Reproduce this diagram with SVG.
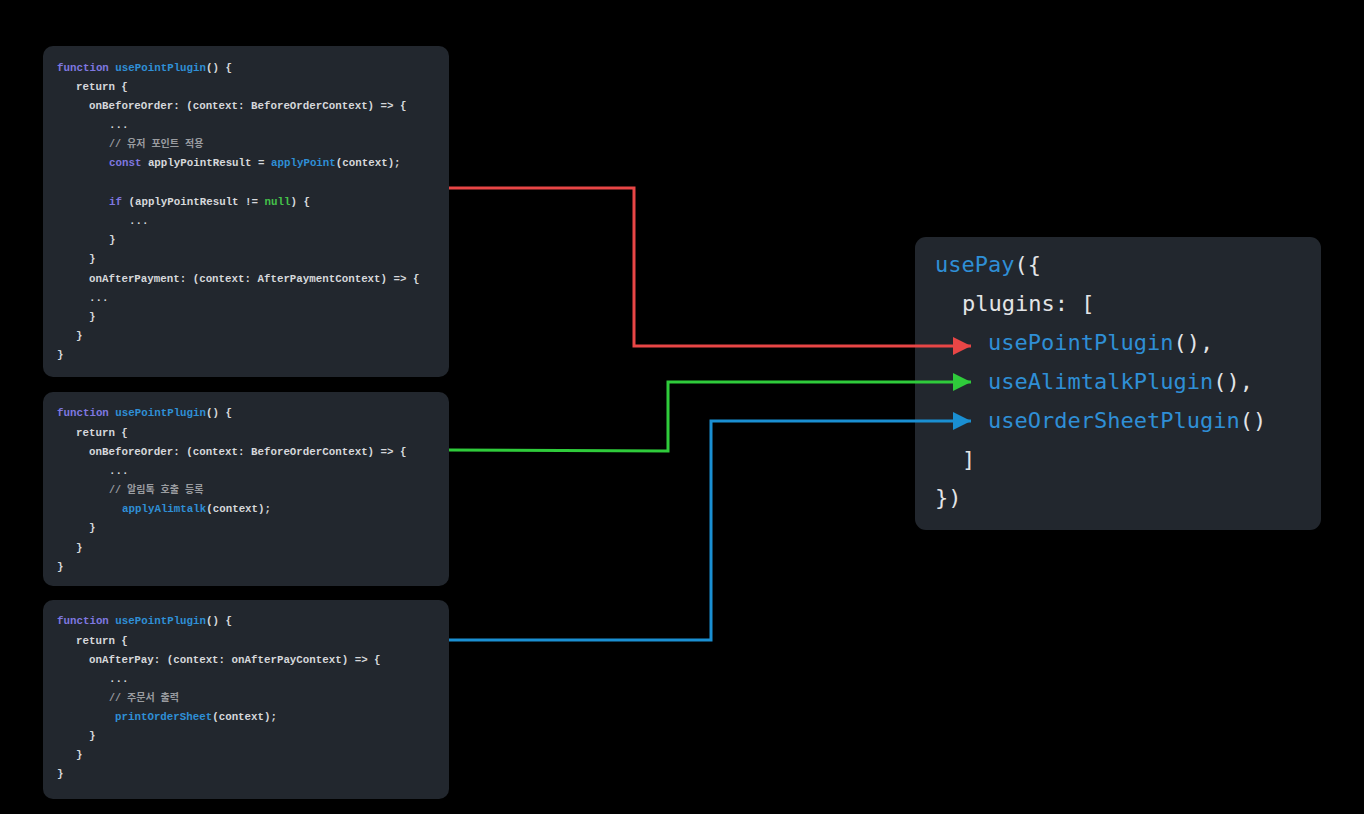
<svg xmlns="http://www.w3.org/2000/svg" width="1364" height="814" viewBox="0 0 1364 814">
<defs>
<style>
.box{fill:#22272e}
.s{font-family:"Liberation Mono","DejaVu Sans Mono","Noto Sans CJK KR",monospace;font-size:10.8px;font-weight:bold;fill:#d6d8db}
.b{font-family:"DejaVu Sans Mono","Liberation Mono",monospace;font-size:22px;fill:#e3e4e6}
.kw{fill:#7f78e0}
.fn{fill:#2f8fd6}
.nl{fill:#45c24a}
.cm{fill:#9a9ca0;font-family:"Liberation Mono","Noto Sans CJK KR",monospace;font-size:10px}
.ln{fill:none;stroke-width:3}
</style>
<marker id="arR" markerUnits="userSpaceOnUse" markerWidth="20" markerHeight="20" refX="18" refY="10" orient="auto" viewBox="0 0 20 20"><path d="M0,1 L18,10 L0,19 Z" fill="#e84646"/></marker>
<marker id="arG" markerUnits="userSpaceOnUse" markerWidth="20" markerHeight="20" refX="18" refY="10" orient="auto" viewBox="0 0 20 20"><path d="M0,1 L18,10 L0,19 Z" fill="#2fcb3b"/></marker>
<marker id="arB" markerUnits="userSpaceOnUse" markerWidth="20" markerHeight="20" refX="18" refY="10" orient="auto" viewBox="0 0 20 20"><path d="M0,1 L18,10 L0,19 Z" fill="#1a8fd2"/></marker>
</defs>
<rect width="1364" height="814" fill="#000"/>

<g id="node-point">
<rect class="box" x="43" y="46" width="406" height="331" rx="10"/>
<text class="s" x="57" y="71"><tspan class="kw">function</tspan> <tspan class="fn">usePointPlugin</tspan>() {</text>
<text class="s" x="76" y="90">return {</text>
<text class="s" x="89" y="109">onBeforeOrder: (context: BeforeOrderContext) =&gt; {</text>
<text class="s" x="109" y="128">...</text>
<text class="s cm" x="109" y="147">// 유저 포인트 적용</text>
<text class="s" x="109" y="166"><tspan class="kw">const</tspan> applyPointResult = <tspan class="fn">applyPoint</tspan>(context);</text>
<text class="s" x="109" y="205"><tspan class="kw">if</tspan> (applyPointResult != <tspan class="nl">null</tspan>) {</text>
<text class="s" x="129" y="224">...</text>
<text class="s" x="109" y="243">}</text>
<text class="s" x="89" y="262">}</text>
<text class="s" x="89" y="282">onAfterPayment: (context: AfterPaymentContext) =&gt; {</text>
<text class="s" x="89" y="301">...</text>
<text class="s" x="89" y="320">}</text>
<text class="s" x="76" y="339">}</text>
<text class="s" x="57" y="358">}</text>
</g>

<g id="node-alimtalk">
<rect class="box" x="43" y="392" width="406" height="194" rx="10"/>
<text class="s" x="57" y="416"><tspan class="kw">function</tspan> <tspan class="fn">usePointPlugin</tspan>() {</text>
<text class="s" x="76" y="436">return {</text>
<text class="s" x="89" y="455">onBeforeOrder: (context: BeforeOrderContext) =&gt; {</text>
<text class="s" x="109" y="474">...</text>
<text class="s cm" x="109" y="493">// 알림톡 호출 등록</text>
<text class="s" x="122" y="512"><tspan class="fn">applyAlimtalk</tspan>(context);</text>
<text class="s" x="89" y="531">}</text>
<text class="s" x="76" y="551">}</text>
<text class="s" x="57" y="570">}</text>
</g>

<g id="node-ordersheet">
<rect class="box" x="43" y="600" width="406" height="199" rx="10"/>
<text class="s" x="57" y="624"><tspan class="kw">function</tspan> <tspan class="fn">usePointPlugin</tspan>() {</text>
<text class="s" x="76" y="644">return {</text>
<text class="s" x="89" y="663">onAfterPay: (context: onAfterPayContext) =&gt; {</text>
<text class="s" x="109" y="682">...</text>
<text class="s cm" x="109" y="701">// 주문서 출력</text>
<text class="s" x="115" y="720"><tspan class="fn">printOrderSheet</tspan>(context);</text>
<text class="s" x="89" y="739">}</text>
<text class="s" x="76" y="758">}</text>
<text class="s" x="57" y="777">}</text>
</g>

<g id="node-usepay">
<rect class="box" x="915" y="237" width="406" height="293" rx="11"/>
<text class="b" x="935" y="272"><tspan class="fn">usePay</tspan>({</text>
<text class="b" x="962" y="311">plugins: [</text>
<text class="b" x="988" y="350"><tspan class="fn">usePointPlugin</tspan>(),</text>
<text class="b" x="988" y="389"><tspan class="fn">useAlimtalkPlugin</tspan>(),</text>
<text class="b" x="988" y="428"><tspan class="fn">useOrderSheetPlugin</tspan>()</text>
<text class="b" x="962" y="467">]</text>
<text class="b" x="935" y="505">})</text>
</g>

<g id="connectors">
<polyline class="ln" stroke="#e84646" points="449,188 634,188 634,346 971,346" marker-end="url(#arR)"/>
<polyline class="ln" stroke="#2fcb3b" points="449,450 668,451 668,382 971,382" marker-end="url(#arG)"/>
<polyline class="ln" stroke="#1a8fd2" points="449,640 711,640 711,421 971,421" marker-end="url(#arB)"/>
</g>
</svg>
